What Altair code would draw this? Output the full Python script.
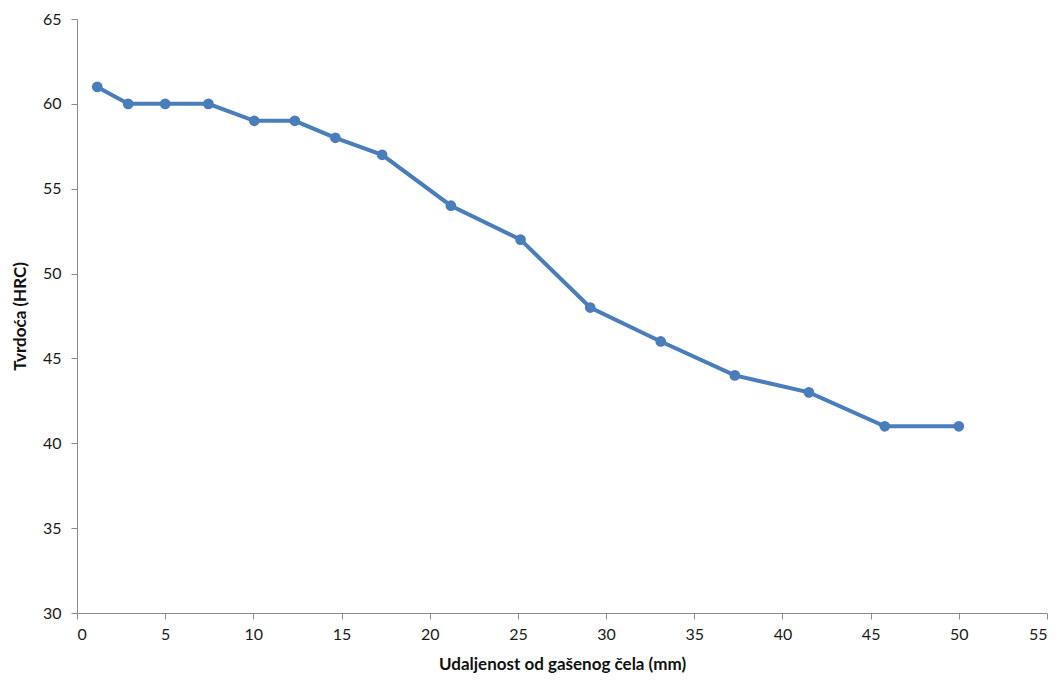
import altair as alt
import pandas as pd

distance_mm = [1.15, 2.9, 5.0, 7.45, 10.05, 12.35, 14.65, 17.3, 21.2, 25.15, 29.1, 33.1, 37.3, 41.5, 45.8, 50.0]
hardness_hrc = [61, 60, 60, 60, 59, 59, 58, 57, 54, 52, 48, 46, 44, 43, 41, 41]

df = pd.DataFrame({"x": distance_mm, "y": hardness_hrc})

font = "Lato"
base = alt.Chart(df).encode(
    x=alt.X("x:Q", scale=alt.Scale(domain=[0, 55], nice=False),
            axis=alt.Axis(values=list(range(0, 56, 5)), title="Udaljenost od gašenog čela (mm)",
                          grid=False, domainColor="#8c8c8c", tickColor="#8c8c8c", tickSize=6,
                          labelFont=font, labelFontSize=16, labelColor="#1a1a1a", labelPadding=7,
                          titleFont=font, titleFontSize=17, titleFontWeight="bold", titleColor="#111",
                          titlePadding=14)),
    y=alt.Y("y:Q", scale=alt.Scale(domain=[30, 65], nice=False, zero=False),
            axis=alt.Axis(values=list(range(30, 66, 5)), title="Tvrdoća (HRC)",
                          grid=False, domainColor="#8c8c8c", tickColor="#8c8c8c", tickSize=6,
                          labelFont=font, labelFontSize=16, labelColor="#1a1a1a", labelPadding=10,
                          titleFont=font, titleFontSize=17, titleFontWeight="bold", titleColor="#111",
                          titlePadding=13)),
)

line = base.mark_line(color="#4a7ebb", strokeWidth=4)
pts = base.mark_circle(color="#4a7ebb", size=115, opacity=1)

chart = (line + pts).properties(
    width=970, height=594,
    autosize=alt.AutoSizeParams(type="none"),
    padding={"left": 69, "top": 11, "right": 8, "bottom": 66},
).configure_view(stroke=None)

chart.save("out.html", embed_options={"renderer": "svg", "actions": False})
